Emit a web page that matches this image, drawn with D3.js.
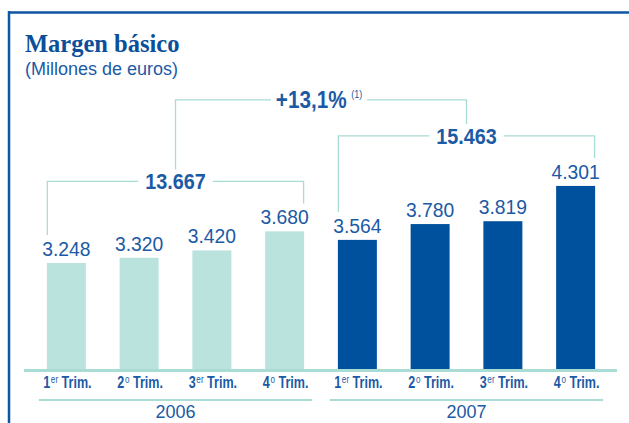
<!DOCTYPE html>
<html>
<head>
<meta charset="utf-8">
<script src="https://cdn.jsdelivr.net/npm/d3@7"></script>
<style>
  body { margin: 0; background: #fff; }
  svg { display: block; }
</style>
</head>
<body>
<svg id="chart" width="629" height="423"></svg>
<script>
// data
var years = ["2006", "2007"];
var quarterNum = ["1", "2", "3", "4"];
var quarterSup = ["er", "o", "er", "o"];
var values2006 = [3248, 3320, 3420, 3680];
var values2007 = [3564, 3780, 3819, 4301];
var totals = [13667, 15463];
var growth = "+13,1%";
var growthNote = "(1)";

var blue = "#1b5aa5",
    dark = "#00519d",
    light = "#bae3dd",
    lineCol = "#a9dcd5";

var svg = d3.select("#chart");
var loc = d3.formatLocale({decimal: ",", thousands: ".", grouping: [3], currency: ["", "€"]});
var fmt = loc.format(",");

// build bar list
var bars = [];
years.forEach(function(yr, g) {
  var vals = g == 0 ? values2006 : values2007;
  vals.forEach(function(v, i) {
    bars.push({year: yr, group: g, q: i, value: v});
  });
});

// frame
svg.append("line").attr("x1", 8).attr("x2", 629).attr("y1", 12.5).attr("y2", 12.5)
  .attr("stroke", "#0d56a1").attr("stroke-width", 2.5);
svg.append("line").attr("x1", 9).attr("x2", 9).attr("y1", 11).attr("y2", 423)
  .attr("stroke", "#0d56a1").attr("stroke-width", 2.5);

// titles
svg.append("text").attr("x", 25).attr("y", 52)
  .style("font-family", "Liberation Serif, serif").style("font-weight", "bold")
  .style("font-size", "24.5px").attr("fill", "#0b4f9b").text("Margen básico");
svg.append("text").attr("x", 25).attr("y", 75)
  .style("font-family", "Liberation Sans, sans-serif")
  .style("font-size", "18px").attr("fill", blue).text("(Millones de euros)");

var x = d3.scaleBand()
  .domain(d3.range(bars.length))
  .range([30, 612])
  .paddingInner(0.464)
  .paddingOuter(0.232);
var bw = x.bandwidth();

var y = d3.scaleLinear()
  .domain([1800, 4300])
  .range([369, 186]);

// bars
svg.selectAll("rect.bar")
  .data(bars)
  .enter().append("rect")
    .attr("class", "bar")
    .attr("x", function(d, i) { return x(i); })
    .attr("y", function(d) { return y(d.value); })
    .attr("width", bw)
    .attr("height", function(d) { return y.range()[0] - y(d.value); })
    .attr("fill", function(d) { return d.group == 0 ? light : dark; });

// value labels
svg.selectAll("text.val")
  .data(bars)
  .enter().append("text")
    .attr("class", "val")
    .attr("transform", function(d, i) { return "translate(" + (x(i) + bw / 2) + "," + (y(d.value) - 7) + ") scale(0.92,1)"; })
    .attr("text-anchor", "middle")
    .style("font-family", "Liberation Sans, sans-serif")
    .style("font-size", "21px")
    .attr("fill", blue)
    .text(function(d) { return fmt(d.value); });

// baseline
svg.append("line").attr("x1", 24).attr("x2", 617)
  .attr("y1", y.range()[0] + 1.5).attr("y2", y.range()[0] + 1.5)
  .attr("stroke", lineCol).attr("stroke-width", 3);

// quarter labels
var ql = svg.selectAll("text.q")
  .data(bars)
  .enter().append("text")
    .attr("class", "q")
    .attr("transform", function(d, i) { return "translate(" + (x(i) + bw / 2 + 1) + ",388) scale(0.74,1)"; })
    .attr("text-anchor", "middle")
    .style("font-family", "Liberation Sans, sans-serif")
    .style("font-weight", "bold")
    .style("font-size", "17px")
    .attr("fill", blue);
ql.append("tspan").text(function(d) { return quarterNum[d.q]; });
ql.append("tspan").attr("dx", 1).attr("dy", -5).style("font-size", "11px").style("font-weight", "normal")
  .text(function(d) { return quarterSup[d.q]; });
ql.append("tspan").attr("dy", 5).text(function(d) { return " Trim."; });

// year lines and labels
years.forEach(function(yr, g) {
  var a = x(g * 4) - 8, b = x(g * 4 + 3) + bw + 8;
  svg.append("line").attr("x1", a).attr("x2", b).attr("y1", 400).attr("y2", 400)
    .attr("stroke", lineCol).attr("stroke-width", 2);
  svg.append("text").attr("x", (a + b) / 2).attr("y", 418)
    .attr("text-anchor", "middle")
    .style("font-family", "Liberation Sans, sans-serif")
    .style("font-size", "18px").attr("fill", blue).text(yr);
});

// bracket helper
function labelTop(i) { return y(bars[i].value) - 7 - 15; }

function bracket(x1, x2, yy, leftEnd, rightEnd, cx, halfGap) {
  var p = d3.path();
  p.moveTo(x1, leftEnd); p.lineTo(x1, yy); p.lineTo(cx - halfGap, yy);
  p.moveTo(cx + halfGap, yy); p.lineTo(x2, yy); p.lineTo(x2, rightEnd);
  svg.append("path").attr("d", p.toString()).attr("fill", "none")
    .attr("stroke", lineCol).attr("stroke-width", 1.3);
}

var bTop = [];
years.forEach(function(yr, g) {
  var i0 = g * 4, i1 = g * 4 + 3;
  var x1 = x(i0) + 0.5, x2 = x(i1) + bw - 0.5;
  var minTop = d3.min(d3.range(i0, i1 + 1), labelTop);
  var yy = minTop - 28;
  var cx = (x1 + x2) / 2;
  var t = svg.append("text").attr("transform", "translate(" + cx + "," + (yy + 8) + ") scale(0.88,1)")
    .attr("text-anchor", "middle")
    .style("font-family", "Liberation Sans, sans-serif")
    .style("font-weight", "bold").style("font-size", "22.5px")
    .attr("fill", blue).text(fmt(totals[g]));
  var w = t.node().getComputedTextLength() * 0.88;
  bracket(x1, x2, yy, labelTop(i0) - 6, labelTop(i1) - 6, cx, w / 2 + 7);
  bTop.push({cx: cx, y: yy});
});

// growth bracket
var gy = bTop[1].y - 36;
var gcx = (bTop[0].cx + bTop[1].cx) / 2;
var gt = svg.append("text").attr("transform", "translate(" + (gcx - 2) + "," + (gy + 8) + ") scale(0.9,1)")
  .attr("text-anchor", "middle")
  .style("font-family", "Liberation Sans, sans-serif")
  .style("font-weight", "bold").style("font-size", "23px")
  .attr("fill", blue);
gt.append("tspan").text(growth);
gt.append("tspan").attr("dx", 5).attr("dy", -10).style("font-size", "10px")
  .style("font-weight", "normal").text(growthNote);
var gw = gt.node().getComputedTextLength() * 0.9;
bracket(bTop[0].cx, bTop[1].cx, gy, bTop[0].y - 12, bTop[1].y - 12, gcx - 2, gw / 2 + 7);
</script>
</body>
</html>
